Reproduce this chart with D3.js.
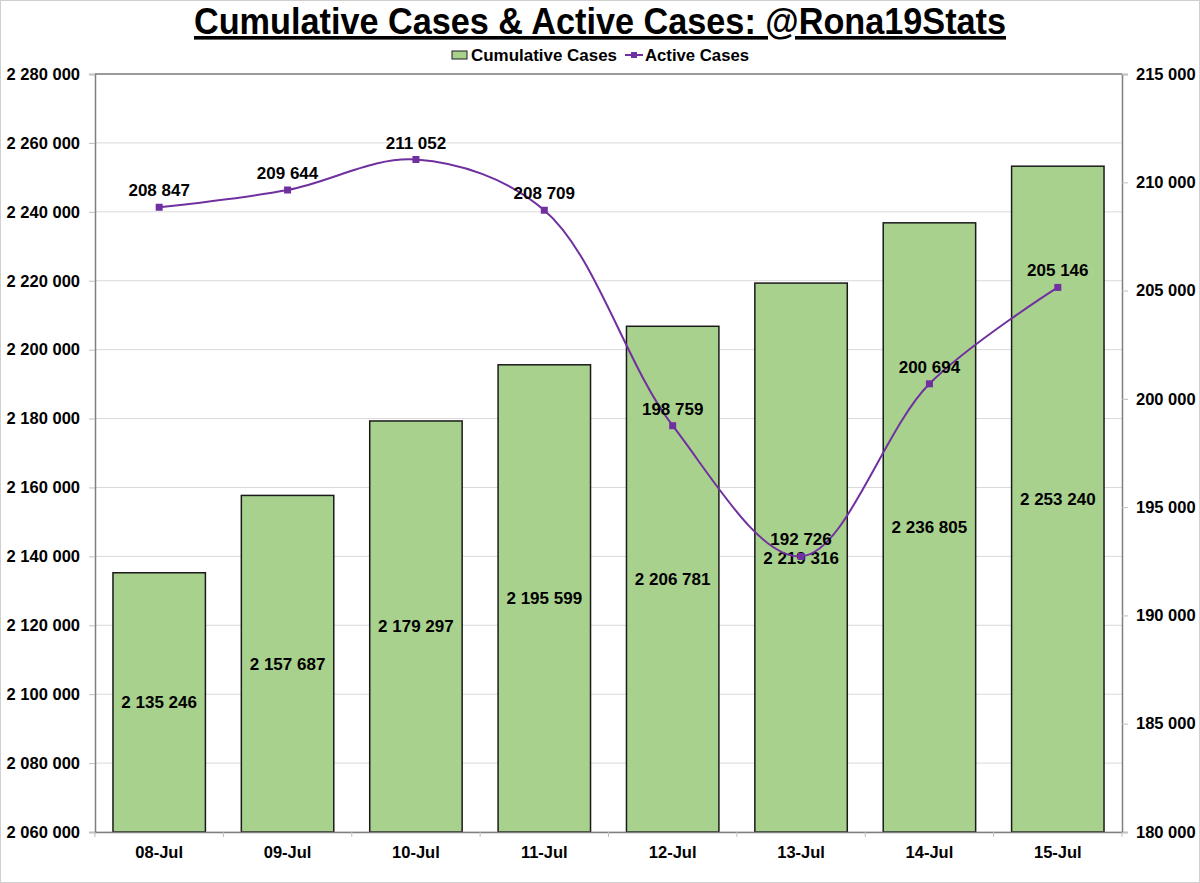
<!DOCTYPE html>
<html>
<head>
<meta charset="utf-8">
<script src="https://cdn.jsdelivr.net/npm/d3@7"></script>
<style>
  body { margin: 0; background: #fff; }
  text { font-family: "Liberation Sans", Arial, sans-serif; font-weight: bold; }
</style>
</head>
<body>
<script>
var w = 1200;
var h = 883;

// data
var days = ["08-Jul", "09-Jul", "10-Jul", "11-Jul", "12-Jul", "13-Jul", "14-Jul", "15-Jul"];
var cumulative = [2135246, 2157687, 2179297, 2195599, 2206781, 2219316, 2236805, 2253240];
var active = [208847, 209644, 211052, 208709, 198759, 192726, 200694, 205146];
var leftTicks = d3.range(2060000, 2280001, 20000);
var rightTicks = d3.range(180000, 215001, 5000);

var m = {top: 74, right: 78, bottom: 51, left: 95};
var iw = w - m.left - m.right;
var ih = h - m.top - m.bottom;

var fmt = function(v) {
  return d3.format(",")(v).replace(/,/g, " ");
};

var svg = d3.select("body")
  .append("svg")
  .attr("width", w)
  .attr("height", h);

// outer frame
svg.append("rect")
  .attr("x", 0.5).attr("y", 0.5)
  .attr("width", w - 1).attr("height", h - 1)
  .attr("fill", "#fff")
  .attr("stroke", "#d0d0d0");

// title
svg.append("text")
  .attr("x", w / 2)
  .attr("y", 34)
  .attr("text-anchor", "middle")
  .attr("font-size", "36px")
  .attr("textLength", 812)
  .attr("lengthAdjust", "spacingAndGlyphs")
  .attr("text-decoration", "underline")
  .text("Cumulative Cases & Active Cases: @Rona19Stats");

var x = d3.scaleBand().domain(days).range([0, iw]).paddingInner(0.28).paddingOuter(0.14);
var yL = d3.scaleLinear().domain([2060000, 2280000]).range([ih, 0]);
var yR = d3.scaleLinear().domain([180000, 215000]).range([ih, 0]);

var g = svg.append("g").attr("transform", "translate(" + m.left + "," + m.top + ")");

// gridlines
g.selectAll("line.grid")
  .data(leftTicks)
  .enter()
  .append("line")
  .attr("class", "grid")
  .attr("x1", 0).attr("x2", iw)
  .attr("y1", function(d) { return yL(d); })
  .attr("y2", function(d) { return yL(d); })
  .attr("stroke", "#d9d9d9")
  .attr("stroke-width", 1);

// bars
g.selectAll("rect.bar")
  .data(cumulative)
  .enter()
  .append("rect")
  .attr("class", "bar")
  .attr("x", function(d, i) { return x(days[i]); })
  .attr("y", function(d) { return yL(d); })
  .attr("width", x.bandwidth())
  .attr("height", function(d) { return ih - yL(d); })
  .attr("fill", "#a9d18e")
  .attr("stroke", "#1a1a1a")
  .attr("stroke-width", 1.5);

// axes
var axL = g.append("g")
  .call(d3.axisLeft(yL).tickValues(leftTicks).tickFormat(fmt).tickSize(6).tickPadding(9));
var axR = g.append("g")
  .attr("transform", "translate(" + iw + ",0)")
  .call(d3.axisRight(yR).tickValues(rightTicks).tickFormat(fmt).tickSize(6).tickPadding(8));
var axB = g.append("g")
  .attr("transform", "translate(0," + ih + ")")
  .call(d3.axisBottom(x).tickSize(0).tickPadding(14));

[axL, axR, axB].forEach(function(a) {
  a.selectAll("path.domain").attr("stroke", "#7f7f7f").attr("stroke-width", 1.5);
  a.selectAll(".tick line").attr("stroke", "#bfbfbf");
  a.selectAll("text")
    .attr("font-size", "16.5px")
    .attr("font-family", "'Liberation Sans', Arial, sans-serif")
    .attr("font-weight", "bold")
    .attr("fill", "#000");
});

// category boundary ticks on x axis
g.selectAll("line.xtick")
  .data(d3.range(days.length + 1))
  .enter()
  .append("line")
  .attr("class", "xtick")
  .attr("x1", function(i) { return i * x.step(); })
  .attr("x2", function(i) { return i * x.step(); })
  .attr("y1", ih).attr("y2", ih + 5)
  .attr("stroke", "#bfbfbf");

// top border of plot area
g.append("line")
  .attr("x1", 0).attr("x2", iw)
  .attr("y1", 0).attr("y2", 0)
  .attr("stroke", "#7f7f7f")
  .attr("stroke-width", 1.5);

// bar labels
g.selectAll("text.barlab")
  .data(cumulative)
  .enter()
  .append("text")
  .attr("class", "barlab")
  .attr("x", function(d, i) { return x(days[i]) + x.bandwidth() / 2; })
  .attr("y", function(d) { return (yL(d) + ih) / 2 + 6; })
  .attr("text-anchor", "middle")
  .attr("font-size", "17px")
  .text(fmt);

// active line
var cx = function(d, i) { return x(days[i]) + x.bandwidth() / 2; };
var line = d3.line()
  .x(cx)
  .y(function(d) { return yR(d); })
  .curve(d3.curveCatmullRom.alpha(0.5));

g.append("path")
  .datum(active)
  .attr("d", line)
  .attr("fill", "none")
  .attr("stroke", "#7030a0")
  .attr("stroke-width", 2);

g.selectAll("rect.mk")
  .data(active)
  .enter()
  .append("rect")
  .attr("class", "mk")
  .attr("x", function(d, i) { return cx(d, i) - 3.5; })
  .attr("y", function(d) { return yR(d) - 3.5; })
  .attr("width", 7).attr("height", 7)
  .attr("fill", "#7030a0");

g.selectAll("text.linelab")
  .data(active)
  .enter()
  .append("text")
  .attr("class", "linelab")
  .attr("x", cx)
  .attr("y", function(d) { return yR(d) - 11; })
  .attr("text-anchor", "middle")
  .attr("font-size", "17px")
  .text(fmt);

// legend
var lg = svg.append("g").attr("transform", "translate(452,55)");
lg.append("rect")
  .attr("x", 0).attr("y", -4)
  .attr("width", 15).attr("height", 8)
  .attr("fill", "#a9d18e")
  .attr("stroke", "#1a1a1a");
lg.append("text")
  .attr("x", 19).attr("y", 6)
  .attr("font-size", "17px")
  .attr("textLength", 146)
  .attr("lengthAdjust", "spacingAndGlyphs")
  .text("Cumulative Cases");
lg.append("line")
  .attr("x1", 173).attr("x2", 191)
  .attr("y1", 0).attr("y2", 0)
  .attr("stroke", "#7030a0").attr("stroke-width", 2);
lg.append("rect")
  .attr("x", 179).attr("y", -3)
  .attr("width", 6).attr("height", 6)
  .attr("fill", "#7030a0");
lg.append("text")
  .attr("x", 193).attr("y", 6)
  .attr("font-size", "17px")
  .attr("textLength", 104)
  .attr("lengthAdjust", "spacingAndGlyphs")
  .text("Active Cases");
</script>
</body>
</html>
